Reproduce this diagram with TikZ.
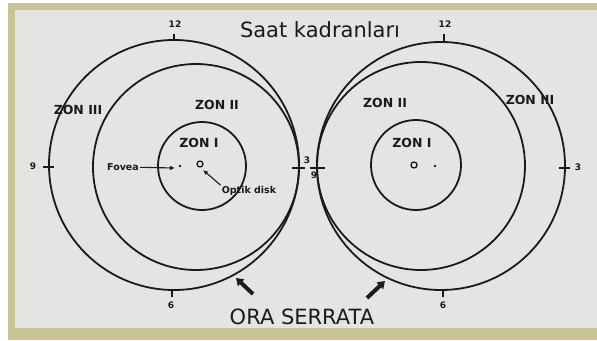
\documentclass[tikz,border=0pt]{standalone}
\usepackage{fontspec}
\setmainfont{DejaVu Sans}
\usetikzlibrary{positioning,arrows.meta}
\definecolor{panel}{HTML}{E4E4E2}
\definecolor{khaki}{HTML}{C8C497}
\definecolor{ink}{HTML}{1A1A1A}

\begin{document}
\begin{tikzpicture}[x=1pt,y=-1pt,
        ring/.style={draw=ink,line width=1.8pt},
        tick/.style={ink,line width=1.6pt},
        num/.style={font=\fontsize{9}{10}\selectfont\bfseries,text=ink,inner sep=0pt},
        zon/.style={font=\fontsize{12.5}{14}\selectfont\bfseries,text=ink,inner sep=0pt},
        lbl/.style={font=\fontsize{9.5}{11}\selectfont\bfseries,text=ink,inner sep=1pt},
        big/.style={font=\fontsize{21}{24}\selectfont,text=ink,inner sep=0pt},
        pt/.style={-{Latex[length=5pt,width=4.5pt]},ink,line width=1.1pt},
        fat/.style={-{Triangle[length=7pt,width=9pt]},ink,line width=4pt}]
        % frame
        \fill[white] (0,0) rectangle (597,340);
        \fill[khaki] (8,3) rectangle (597,340);
        \fill[panel] (15,10) rectangle (597,328);
        \useasboundingbox (0,0) rectangle (597,340);
        % left dial
        \draw[ring] (174,165) circle[radius=125pt];
        \draw[ring] (196,167) circle[radius=103pt];
        \draw[ring] (202,166) circle[radius=44pt];
        \draw[tick] (174,34)--(174,41);
        \draw[tick] (43,167)--(54,167);
        \draw[tick] (292,168)--(305,168);
        \draw[tick] (172,290)--(172,297);
        \node[num] (l12) at (175,24) {12};
        \node[num] (l9) at (33,166) {9};
        \node[num] (l3) at (307,160) {3};
        \node[num] (l6) at (171,305) {6};
        \fill[ink] (180,166) circle[radius=1.4pt];
        \draw[ink,line width=1.3pt] (200,164) circle[radius=3pt];
        \node[lbl] (fovea) at (123,167) {Fovea};
        \coordinate (fovpt) at (175,168);
        \draw[pt] (fovea)--(fovpt);
        \node[lbl] (optik) at (249,191) {Optik disk};
        \coordinate (optpt) at (203,170);
        \draw[pt] (optik.north west)--(optpt);
        \node[zon] (lz1) at (199,143) {ZON I};
        \node[zon] (lz2) at (217,105) {ZON II};
        \node[zon] (lz3) at (78,110) {ZON III};
        % right dial
        \draw[ring] (441,166) circle[radius=124pt];
        \draw[ring] (421,166) circle[radius=104pt];
        \draw[ring] (416,165) circle[radius=45pt];
        \draw[tick] (444,34)--(444,42);
        \draw[tick] (310,168)--(325,168);
        \draw[tick] (559,168)--(570,168);
        \draw[tick] (443,290)--(443,297);
        \node[num] (r12) at (445,24) {12};
        \node[num] (r9) at (314,175) {9};
        \node[num] (r3) at (578,167) {3};
        \node[num] (r6) at (443,305) {6};
        \draw[ink,line width=1.3pt] (414,165) circle[radius=3pt];
        \fill[ink] (435,166) circle[radius=1.4pt];
        \node[zon] (rz1) at (412,143) {ZON I};
        \node[zon] (rz2) at (385,103) {ZON II};
        \node[zon] (rz3) at (530,100) {ZON III};
        % titles
        \node[big] (title) at (320,30) {Saat kadranları};
        \node[big] (ora) at (302,317) {ORA SERRATA};
        \coordinate (la) at (253,294);
        \coordinate (lb) at (236,278);
        \coordinate (ra) at (367,298);
        \coordinate (rb) at (385,281);
        \draw[fat] (la)--(lb);
        \draw[fat] (ra)--(rb);
      \end{tikzpicture}
\end{document}
